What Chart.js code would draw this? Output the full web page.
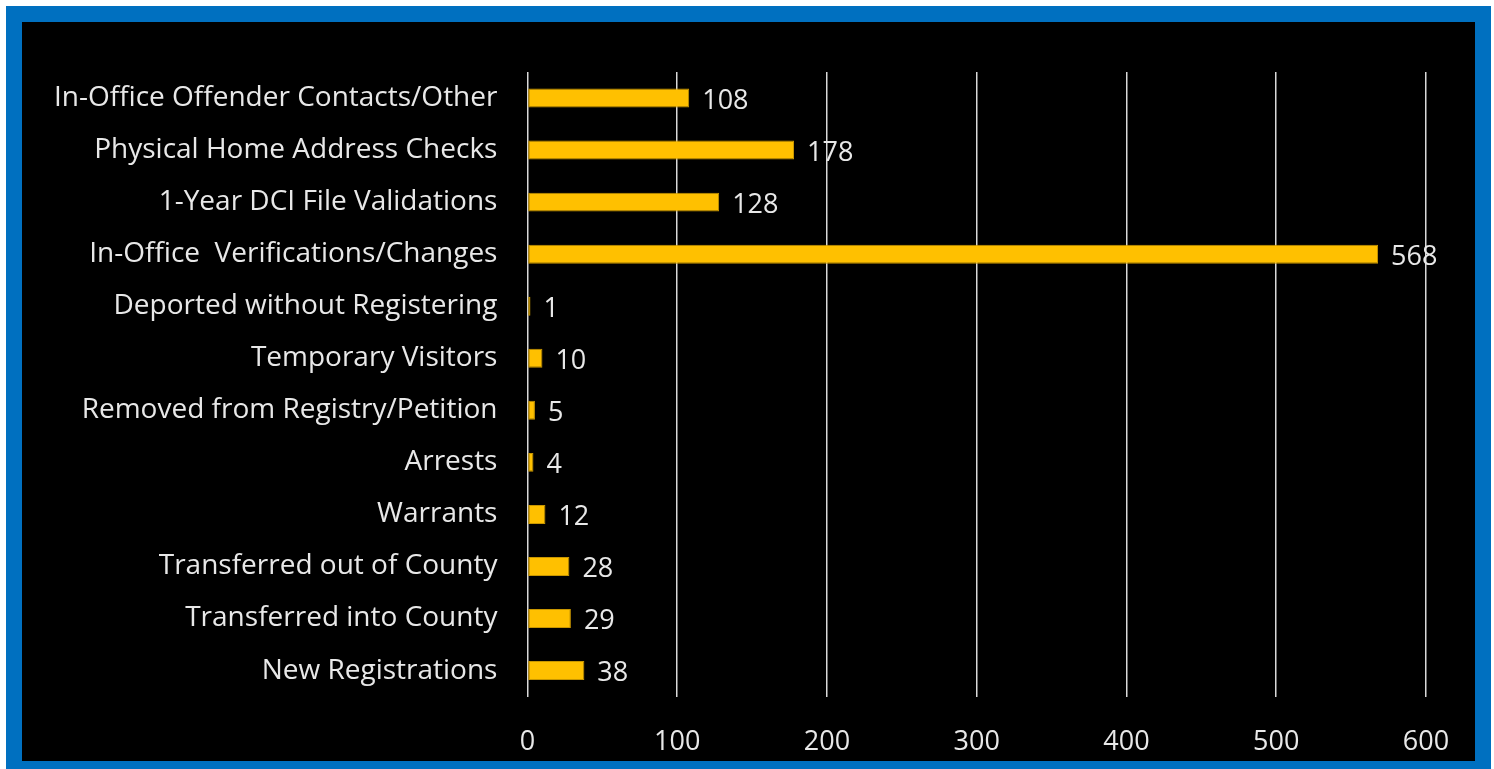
<!DOCTYPE html>
<html>
<head>
<meta charset="utf-8">
<script src="https://cdn.jsdelivr.net/npm/chart.js@4"></script>
<style>
  body { margin: 0; background: #fff; }
  #frame {
    position: absolute; left: 6px; top: 6px;
    width: 1453px; height: 739px;
    border: 16px solid #0070C0;
    background: #000;
  }
  canvas { display: block; }
</style>
</head>
<body>
<div id="frame"><canvas id="chart" width="1453" height="739"></canvas></div>
<script>
// categories, top to bottom
var categories = [
  'In-Office Offender Contacts/Other',
  'Physical Home Address Checks',
  '1-Year DCI File Validations',
  'In-Office  Verifications/Changes',
  'Deported without Registering',
  'Temporary Visitors',
  'Removed from Registry/Petition',
  'Arrests',
  'Warrants',
  'Transferred out of County',
  'Transferred into County',
  'New Registrations'
];
var counts = [108, 178, 128, 568, 1, 10, 5, 4, 12, 28, 29, 38];
var xTicks = [0, 100, 200, 300, 400, 500, 600];

var fontFamily = '"Open Sans", "Noto Sans", sans-serif';

/* bar value labels */
var valueLabels = {
  id: 'valueLabels',
  afterDatasetsDraw: function(chart) {
    var ctx = chart.ctx;
    var meta = chart.getDatasetMeta(0);
    ctx.save();
    ctx.font = '27px ' + fontFamily;
    ctx.fillStyle = '#e8e8e8';
    ctx.textAlign = 'left';
    ctx.textBaseline = 'middle';
    meta.data.forEach(function(bar, i) {
      ctx.fillText(counts[i], bar.x + 13, bar.y + 3);
    });
    ctx.restore();
  }
};

var ctx = document.getElementById('chart').getContext('2d');
var chart = new Chart(ctx, {
  type: 'bar',
  data: {
    labels: categories,
    datasets: [{
      data: counts,
      backgroundColor: '#FFC000',
      borderColor: '#C89600',
      borderWidth: 1,
      borderSkipped: false,
      minBarLength: 3,
      categoryPercentage: 1,
      barPercentage: 0.365
    }]
  },
  options: {
    indexAxis: 'y',
    responsive: false,
    animation: false,
    layout: { padding: { left: 10, right: 49, top: 50, bottom: -28 } },
    plugins: {
      legend: { display: false },
      tooltip: { enabled: false }
    },
    scales: {
      x: {
        min: 0, max: 600,
        afterBuildTicks: function(axis) {
          axis.ticks = xTicks.map(function(v) { return { value: v }; });
        },
        afterFit: function(axis) {
          axis.paddingRight = 0; // let the layout padding set the right edge
        },
        grid: { color: '#d9d9d9', lineWidth: 1.5, drawTicks: false },
        border: { display: false },
        ticks: {
          color: '#e8e8e8',
          padding: 30,
          font: { family: fontFamily, size: 27 },
          maxRotation: 0
        }
      },
      y: {
        grid: { display: false },
        border: { display: false },
        ticks: {
          color: '#e8e8e8',
          padding: 22,
          font: { family: fontFamily, size: 28 },
          autoSkip: false
        }
      }
    }
  },
  plugins: [valueLabels]
});
</script>
</body>
</html>
